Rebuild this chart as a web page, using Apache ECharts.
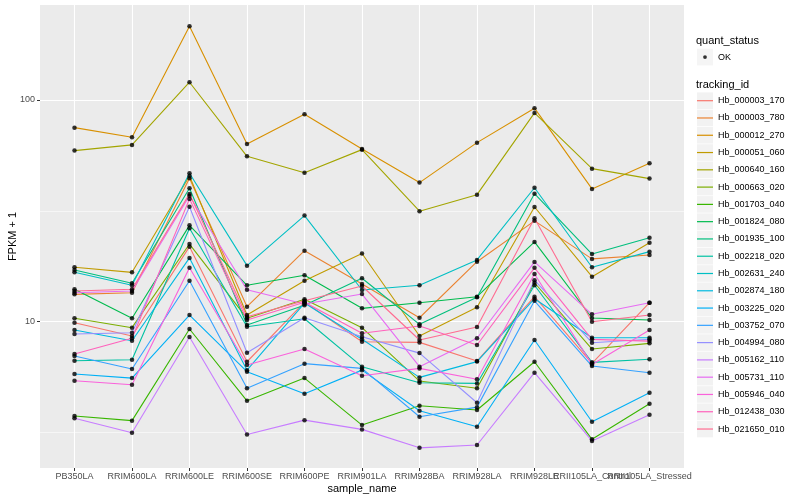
<!DOCTYPE html>
<html><head><meta charset="utf-8">
<script src="https://cdn.jsdelivr.net/npm/echarts@6/dist/echarts.min.js"></script>
<style>html,body{margin:0;padding:0;background:#fff}#c{width:800px;height:500px}</style>
</head><body><div id="c"></div>
<script>
// ---- data ----
const categories = ['PB350LA','RRIM600LA','RRIM600LE','RRIM600SE','RRIM600PE','RRIM901LA','RRIM928BA','RRIM928LA','RRIM928LE','RRII105LA_Control','RRII105LA_Stressed'];
const trackingIds = ['Hb_000003_170','Hb_000003_780','Hb_000012_270','Hb_000051_060','Hb_000640_160','Hb_000663_020','Hb_001703_040','Hb_001824_080','Hb_001935_100','Hb_002218_020','Hb_002631_240','Hb_002874_180','Hb_003225_020','Hb_003752_070','Hb_004994_080','Hb_005162_110','Hb_005731_110','Hb_005946_040','Hb_012438_030','Hb_021650_010'];
const seriesColors = ['#F8766D','#EA8331','#D89000','#C09B00','#A3A500','#7CAE00','#39B600','#00BB4E','#00BF7D','#00C1A3','#00BFC4','#00BAE0','#00B0F6','#35A2FF','#9590FF','#C77CFF','#E76BF3','#FA62DB','#FF62BC','#FF6C91'];
const quantStatus = ['OK'];
const yMajorTicks = [10, 100];
const yMinorTicks = [3.1623, 31.623];

const Hb_000003_170 = [9.90, 8.62, 21.8, 6.60, 12.27, 8.12, 8.07, 6.65, 12.97, 6.49, 12.18];
const Hb_000003_780 = [13.29, 13.51, 44.3, 11.69, 20.9, 14.79, 10.42, 18.65, 28.5, 19.2, 20.0];
const Hb_000012_270 = [75.0, 67.9, 215, 63.3, 86.2, 60.1, 42.4, 64.2, 91.8, 39.7, 51.8];
const Hb_000051_060 = [17.6, 16.7, 45.4, 10.72, 15.3, 20.3, 8.62, 11.61, 32.9, 15.96, 22.7];
const Hb_000640_160 = [59.1, 62.7, 120.2, 55.7, 47.0, 59.7, 31.5, 37.4, 87.4, 49.0, 44.2];
const Hb_000663_020 = [10.36, 9.40, 22.4, 10.36, 12.62, 9.40, 5.40, 5.01, 14.99, 7.53, 7.99];
const Hb_001703_040 = [3.76, 3.58, 9.27, 4.40, 5.57, 3.42, 4.18, 4.00, 6.60, 2.95, 4.27];
const Hb_001824_080 = [14.0, 10.36, 27.2, 14.6, 16.2, 11.49, 12.18, 12.97, 22.9, 10.39, 10.18];
const Hb_001935_100 = [17.1, 14.9, 40.0, 9.66, 11.86, 15.7, 9.73, 12.89, 37.8, 20.2, 23.9];
const Hb_002218_020 = [6.67, 6.74, 26.4, 9.49, 10.31, 6.27, 5.31, 5.27, 14.6, 6.56, 6.77];
const Hb_002631_240 = [16.7, 14.6, 46.7, 17.9, 30.1, 13.9, 14.6, 19.0, 40.2, 17.6, 20.7];
const Hb_002874_180 = [9.18, 8.21, 19.4, 6.05, 12.14, 8.33, 5.61, 6.61, 12.70, 8.47, 8.47];
const Hb_003225_020 = [5.81, 5.57, 10.72, 5.95, 4.73, 6.05, 3.97, 3.36, 8.27, 3.54, 4.78];
const Hb_003752_070 = [7.00, 6.12, 15.3, 5.01, 6.47, 6.16, 3.73, 4.12, 12.43, 6.31, 5.89];
const Hb_004994_080 = [8.80, 8.92, 33.0, 7.25, 10.42, 8.56, 7.22, 4.31, 15.4, 8.04, 8.33];
const Hb_005162_110 = [3.67, 3.16, 8.53, 3.10, 3.60, 3.27, 2.70, 2.78, 5.89, 2.90, 3.81];
const Hb_005731_110 = [13.51, 13.76, 37.0, 13.94, 12.02, 13.33, 6.27, 8.42, 18.6, 10.80, 12.18];
const Hb_005946_040 = [5.42, 5.20, 17.5, 6.38, 7.53, 5.71, 6.16, 5.50, 16.4, 6.42, 9.18];
const Hb_012438_030 = [7.15, 8.42, 35.8, 10.18, 12.23, 8.87, 9.56, 7.85, 17.5, 8.33, 8.18];
const Hb_021650_010 = [13.76, 14.0, 37.7, 10.53, 12.43, 14.49, 8.27, 9.46, 29.3, 10.0, 10.72];

const seriesValues = [Hb_000003_170, Hb_000003_780, Hb_000012_270, Hb_000051_060, Hb_000640_160,
  Hb_000663_020, Hb_001703_040, Hb_001824_080, Hb_001935_100, Hb_002218_020, Hb_002631_240,
  Hb_002874_180, Hb_003225_020, Hb_003752_070, Hb_004994_080, Hb_005162_110, Hb_005731_110,
  Hb_005946_040, Hb_012438_030, Hb_021650_010];

// ---- chart ----
const FONT = '"Liberation Sans", Arial, Helvetica, sans-serif';
const X_MIN = -0.6, X_MAX = categories.length - 1 + 0.6;   // ggplot discrete expansion
const catIdx = categories.map((c, i) => i);
const labelIdx = [X_MIN].concat(catIdx, [X_MAX]);           // blank end labels keep real ones inner

const lineSeries = trackingIds.map((id, k) => ({
  name: id, type: 'line', xAxisIndex: 0, yAxisIndex: 0,
  data: seriesValues[k].map((v, i) => [i, v]),
  showSymbol: false, symbol: 'none',
  itemStyle: { color: seriesColors[k] },
  lineStyle: { color: seriesColors[k], width: 1.1 },
  silent: true, animation: false, z: 2
}));

const points = [];
seriesValues.forEach(vals => vals.forEach((v, i) => points.push([i, v])));
const okSeries = {
  name: quantStatus[0], type: 'scatter', xAxisIndex: 0, yAxisIndex: 0,
  data: points, symbol: 'circle', symbolSize: 4.5,
  itemStyle: { color: '#000000' }, silent: true, animation: false, z: 3
};

const legendText = { fontSize: 9, lineHeight: 17.28, fontFamily: FONT, color: '#000000' };
const legendBase = { orient: 'vertical', left: 697, padding: 0, itemGap: 0, itemWidth: 16, selectedMode: false };
const dotSize = 3.8;

const option = {
  backgroundColor: '#FFFFFF',
  animation: false,
  textStyle: { fontFamily: FONT },
  title: [
    { text: 'quant_status', left: 696, top: 35, padding: 0,
      textStyle: { fontSize: 11, fontWeight: 'normal', color: '#000000', fontFamily: FONT } },
    { text: 'tracking_id', left: 696, top: 79, padding: 0,
      textStyle: { fontSize: 11, fontWeight: 'normal', color: '#000000', fontFamily: FONT } }
  ],
  legend: [
    Object.assign({}, legendBase, { z: 3, top: 48.4, data: quantStatus, icon: 'rect', itemHeight: 16.6,
      itemStyle: { color: '#F2F2F2', borderWidth: 0 }, textStyle: Object.assign({}, legendText, { color: 'rgba(0,0,0,0)' }) }),
    Object.assign({}, legendBase, { z: 4, top: 48.4, left: 697 + (16 - dotSize) / 2, data: quantStatus, icon: 'circle', itemHeight: dotSize,
      itemStyle: { color: '#000000', borderWidth: 0 }, textStyle: legendText }),
    Object.assign({}, legendBase, { z: 3, top: 92.06, data: trackingIds, icon: 'rect', itemHeight: 16.6,
      itemStyle: { color: '#F2F2F2', borderWidth: 0 }, textStyle: Object.assign({}, legendText, { color: 'rgba(0,0,0,0)' }) }),
    Object.assign({}, legendBase, { z: 4, top: 92.06, data: trackingIds, icon: 'rect', itemHeight: 1.2,
      itemStyle: { borderWidth: 0 }, textStyle: legendText })
  ],
  grid: { left: 40, top: 5, width: 644, height: 463, show: true, backgroundColor: '#EBEBEB', borderWidth: 0,
    containLabel: false, outerBoundsMode: 'none' },
  xAxis: {
    type: 'value', min: X_MIN, max: X_MAX, splitNumber: 11, position: 'bottom',
    axisLine: { show: false, onZero: false },
    axisTick: { show: true, length: 3, lineStyle: { color: '#333333', width: 1 }, customValues: catIdx },
    axisLabel: { customValues: labelIdx,
      formatter: v => (Math.abs(v - Math.round(v)) < 1e-6 && categories[Math.round(v)]) || '',
      hideOverlap: false,
      color: '#4D4D4D', fontSize: 9, margin: 4, fontFamily: FONT },
    splitLine: { show: true, lineStyle: { color: '#FFFFFF', width: 1.1 } },
    name: 'sample_name', nameLocation: 'middle', nameGap: 15, nameMoveOverlap: false,
    nameTextStyle: { color: '#000000', fontSize: 11, fontFamily: FONT }
  },
  yAxis: [{
    type: 'log', logBase: 10, min: 2.19, max: 268, position: 'left',
    axisLine: { show: false, onZero: false },
    axisTick: { show: true, length: 3, lineStyle: { color: '#333333', width: 1 }, customValues: yMajorTicks },
    axisLabel: { customValues: yMajorTicks,
      formatter: v => { const r = Math.round(v); return yMajorTicks.indexOf(r) >= 0 ? String(r) : ''; },
      showMinLabel: true, showMaxLabel: true,
      color: '#4D4D4D', fontSize: 9, margin: 5, fontFamily: FONT },
    splitLine: { show: true, lineStyle: { color: '#FFFFFF', width: 1.1 } },
    name: 'FPKM + 1', nameLocation: 'middle', nameGap: 22, nameMoveOverlap: false,
    nameTextStyle: { color: '#000000', fontSize: 11, fontFamily: FONT }
  }, {
    type: 'log', logBase: 10, min: 2.19, max: 268, position: 'right',
    axisLine: { show: false, onZero: false },
    axisTick: { show: false, customValues: yMinorTicks },
    axisLabel: { show: false },
    splitLine: { show: true, lineStyle: { color: '#FFFFFF', width: 0.55 } }
  }],
  series: lineSeries.concat([okSeries])
};

const chart = echarts.init(document.getElementById('c'), null, { renderer: 'canvas' });
chart.setOption(option);
</script>
</body></html>
